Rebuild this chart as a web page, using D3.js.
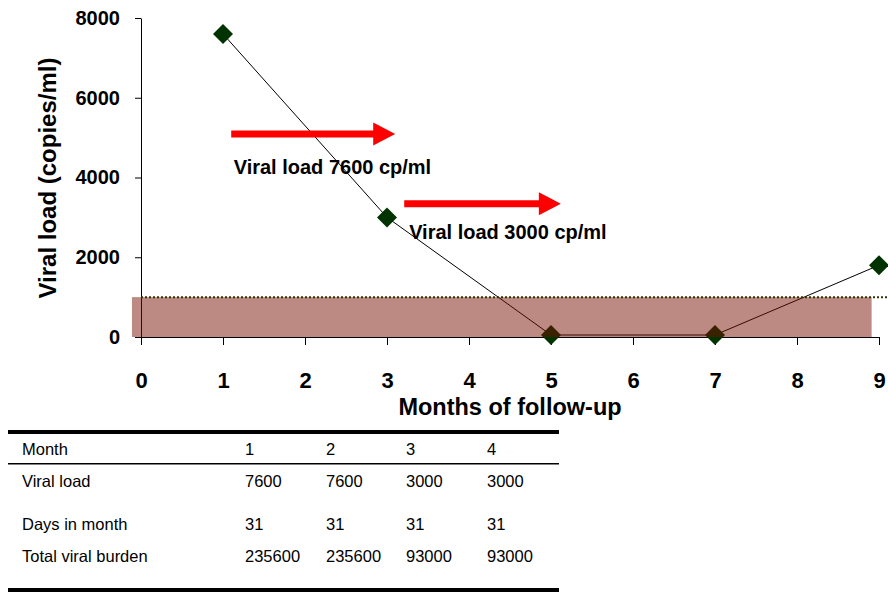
<!DOCTYPE html>
<html>
<head>
<meta charset="utf-8">
<script src="https://cdn.jsdelivr.net/npm/d3@7"></script>
<style>
  body { margin: 0; background: #fff; }
  svg { display: block; font-family: "Liberation Sans", Arial, sans-serif; }
</style>
</head>
<body>
<svg id="chart" width="888" height="592"></svg>
<script>
// data
const months = [1, 3, 5, 7, 9];
const viralLoad = [7600, 3000, 50, 50, 1800];
const threshold = 1000;
const xTicks = [0, 1, 2, 3, 4, 5, 6, 7, 8, 9];
const yTicks = [0, 2000, 4000, 6000, 8000];

// annotations (data coords)
const arrowStarts = [1.1, 3.21];
const arrowEnds = [3.1, 5.12];
const arrowLevels = [5090, 3340];
const noteLabels = ["Viral load 7600 cp/ml", "Viral load 3000 cp/ml"];
const noteX = [1.13, 3.27];
const noteY = [4090, 2460];

// table
const tableHeader = ["Month", "1", "2", "3", "4"];
const rowLabels = ["Viral load", "Days in month", "Total viral burden"];
const rowValues = [
  [7600, 7600, 3000, 3000],
  [31, 31, 31, 31],
  [235600, 235600, 93000, 93000]
];

const svg = d3.select("#chart");
const x = d3.scaleLinear().domain([0, 9]).range([141, 879]);
const y = d3.scaleLinear().domain([0, 8000]).range([337, 18]);

// y axis
const yAxis = svg.append("g")
  .attr("transform", `translate(${x(0)},0)`)
  .call(d3.axisLeft(y).tickValues(yTicks).tickFormat(d3.format("d"))
    .tickSize(6).tickPadding(15).tickSizeOuter(0));
yAxis.selectAll("text")
  .attr("font-size", 20).attr("font-weight", "bold").attr("fill", "#000")
  .attr("font-family", "Liberation Sans, Arial, sans-serif");

// x axis
const xAxis = svg.append("g")
  .attr("transform", `translate(0,${y(0)})`)
  .call(d3.axisBottom(x).tickValues(xTicks).tickSize(8).tickPadding(27).tickSizeOuter(0));
xAxis.selectAll("text")
  .attr("font-size", 22).attr("font-weight", "bold").attr("fill", "#000")
  .attr("font-family", "Liberation Sans, Arial, sans-serif");
svg.selectAll(".domain, .tick line").attr("stroke", "#000");

// titles
svg.append("text")
  .attr("x", 510).attr("y", 415)
  .attr("text-anchor", "middle")
  .attr("font-size", 23.5).attr("font-weight", "bold")
  .text("Months of follow-up");

svg.append("text")
  .attr("transform", "translate(56,178) rotate(-90)")
  .attr("text-anchor", "middle")
  .attr("font-size", 24).attr("font-weight", "bold")
  .text("Viral load (copies/ml)");

// series line + markers
const pts = months.map((m, i) => ({ m: m, v: viralLoad[i] }));
svg.append("path")
  .datum(pts)
  .attr("fill", "none")
  .attr("stroke", "#000")
  .attr("stroke-width", 1)
  .attr("d", d3.line().x(d => x(d.m)).y(d => y(d.v)));

svg.selectAll(".pt")
  .data(pts)
  .join("path")
  .attr("class", "pt")
  .attr("transform", d => `translate(${x(d.m)},${y(d.v)})`)
  .attr("d", "M0,-10L10,0L0,10L-10,0Z")
  .attr("fill", "#003300");

// threshold band (semi-transparent, drawn over the series)
svg.append("rect")
  .attr("x", x(-0.11))
  .attr("y", y(threshold))
  .attr("width", x(8.91) - x(-0.11))
  .attr("height", y(0) - y(threshold))
  .attr("fill", "#761000")
  .attr("opacity", 0.49);

svg.append("line")
  .attr("x1", x(0)).attr("x2", 888)
  .attr("y1", y(threshold)).attr("y2", y(threshold))
  .attr("stroke", "#333300")
  .attr("stroke-width", 2)
  .attr("stroke-dasharray", "2,2");

// arrows
arrowStarts.forEach((s, i) => {
  const x0 = x(s), x1 = x(arrowEnds[i]), yc = y(arrowLevels[i]);
  svg.append("path")
    .attr("d", `M${x0},${yc - 3.5}L${x1 - 22},${yc - 3.5}L${x1 - 22},${yc - 11.5}L${x1},${yc}` +
      `L${x1 - 22},${yc + 11.5}L${x1 - 22},${yc + 3.5}L${x0},${yc + 3.5}Z`)
    .attr("fill", "#ff0000");
});

noteLabels.forEach((t, i) => {
  svg.append("text")
    .attr("x", x(noteX[i])).attr("y", y(noteY[i]))
    .attr("font-size", 20).attr("font-weight", "bold")
    .text(t);
});

// table
const colX = [22, 245, 326, 406, 487];
const rowY = [455, 487, 530, 562];

svg.append("rect").attr("x", 8).attr("y", 430).attr("width", 551).attr("height", 4).attr("fill", "#000");
svg.append("rect").attr("x", 8).attr("y", 463).attr("width", 551).attr("height", 1.5).attr("fill", "#000");
svg.append("rect").attr("x", 8).attr("y", 588).attr("width", 551).attr("height", 4).attr("fill", "#000");

tableHeader.forEach((h, j) => {
  svg.append("text").attr("x", colX[j]).attr("y", rowY[0])
    .attr("font-size", 16.5).text(h);
});
rowLabels.forEach((lab, i) => {
  svg.append("text").attr("x", colX[0]).attr("y", rowY[i + 1])
    .attr("font-size", 16.5).text(lab);
  rowValues[i].forEach((v, j) => {
    svg.append("text").attr("x", colX[j + 1]).attr("y", rowY[i + 1])
      .attr("font-size", 16.5).text(v);
  });
});
</script>
</body>
</html>
